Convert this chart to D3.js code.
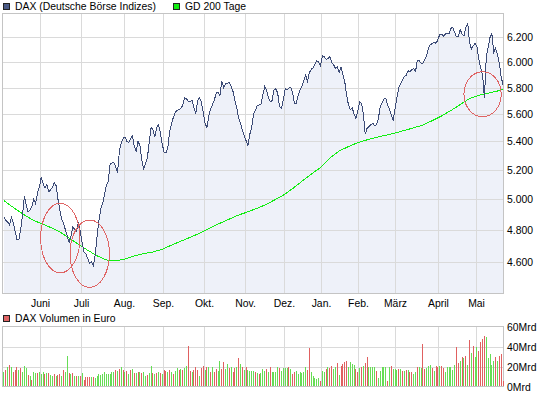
<!DOCTYPE html>
<html lang="de">
<head>
<meta charset="utf-8" />
<script src="https://cdnjs.cloudflare.com/ajax/libs/d3/7.8.5/d3.min.js"></script>
<style>
  body { margin: 0; background: #fff; }
  svg text { font-family: "Liberation Sans", Arial, sans-serif; font-size: 10.4px; fill: #000; }
</style>
</head>
<body>
<div id="chart"></div>
<script>
// DAX close, one value per trading day (4.5.2009 - 21.5.2010)
var daxClose = [
  4885,4860,4850,4830,4880,4845,4790,4738,4738,4800,
  4900,5020,4960,4915,4930,4950,5000,4970,5040,5080,
  5145,5105,5075,5100,5050,5060,5080,5110,5090,5000,
  4930,4870,4840,4800,4760,4720,4760,4820,4800,4790,
  4850,4790,4720,4660,4650,4620,4590,4600,4575,4640,
  4760,4860,4935,4970,5030,5095,5120,5240,5245,5250,
  5220,5180,5330,5390,5420,5432,5400,5390,5420,5440,
  5364,5330,5400,5370,5270,5207,5243,5280,5390,5500,
  5483,5430,5500,5519,5460,5380,5320,5316,5352,5470,
  5531,5575,5612,5628,5630,5641,5665,5722,5715,5692,
  5695,5700,5650,5600,5700,5720,5690,5610,5530,5500,
  5585,5640,5670,5705,5760,5760,5740,5850,5800,5830,
  5833,5840,5810,5769,5700,5645,5570,5530,5483,5440,
  5405,5370,5450,5495,5600,5628,5660,5668,5674,5740,
  5808,5782,5725,5690,5700,5782,5790,5756,5654,5640,
  5705,5790,5782,5795,5800,5756,5680,5680,5744,5780,
  5813,5850,5895,5850,5915,5941,5955,5985,6010,6000,
  5970,6050,6041,6020,6027,6045,5995,5980,5949,5960,
  5920,5960,5900,5846,5740,5667,5630,5645,5600,5565,
  5620,5690,5680,5600,5450,5495,5505,5520,5531,5515,
  5519,5560,5650,5680,5710,5718,5665,5635,5590,5550,
  5641,5720,5800,5825,5860,5885,5895,5930,5925,5940,
  5949,5925,6015,6010,5990,5992,6020,6050,6118,6140,
  6151,6162,6151,6180,6225,6227,6210,6228,6232,6230,
  6275,6285,6240,6205,6210,6266,6225,6210,6280,6320,
  6160,6105,6130,6150,6120,6020,5950,5900,5720,6040,
  6120,6200,6230,6080,6110,6060,5990,5880,5820
];

// GD 200 Tage, read every 5th trading day
var maDays = [0,5,10,15,20,25,30,35,40,45,50,55,60,65,70,75,80,85,90,95,
  100,105,110,115,120,125,130,135,140,145,150,155,160,165,170,175,180,185,190,195,
  200,205,210,215,220,225,230,235,240,245,250,255,260,265,268];
var ma200 = [4990,4945,4903,4866,4840,4815,4787,4748,4709,4671,4637,4611,4606,4617,4636,4650,4660,4677,4703,4728,
  4752,4778,4808,4837,4863,4891,4912,4935,4960,4992,5026,5070,5120,5168,5215,5280,5330,5362,5390,5410,
  5428,5443,5459,5478,5497,5518,5550,5585,5625,5670,5715,5740,5756,5773,5785];

// Volumen in Mrd Euro
var volume = [
  14.3,17,19.3,22,19.3,15,17,20,17,19,
  15,21,19,11.7,11,7,14.3,13.3,13.3,15,
  13,15,12.3,13.3,13.3,11.7,10.3,13,11,11.7,
  13,11,17,14.3,31,13.7,12.3,13.3,11,11,
  11,11,13.3,7,9.3,9.3,9.3,9.3,9.3,9,
  11,12.7,12,12.7,14.3,13,12.7,13,14.3,15,
  17,16,17.3,19.7,17,15,16,12.7,17,17.7,
  13.3,13.3,15,14.3,13.3,15,10.3,11.7,13.3,21,
  13.3,13,14,14.3,14,12.3,17,16,15,16.7,
  15,12.3,16,19,16.7,17.7,16.3,18.3,21,41,
  16,14.3,16.7,19.3,16.7,11,18.3,21,17,20,
  19.3,14.3,19.3,14.3,17.7,16,26,17.7,24.3,17.7,
  22.3,18.3,20,14.3,18.3,20,28.3,22.3,19.3,17,
  19.3,16.7,16,15.3,16,15,13.3,12.7,13.3,17.7,
  16,17.7,14.3,
  20,14.3,15,14.3,19.3,18.7,16,18.3,18.3,18.3,
  19.3,17.7,12.7,14.3,15.7,12.7,14.3,13.7,15,20,
  17,38.3,15,11,8.7,7.7,8.3,6,15.7,15,
  17.7,19.3,18.7,21,17.7,20,23.7,12,21,22.3,
  24.3,26,19.3,24.3,22.7,21.7,17.7,14.3,18,20,
  20.3,24,30,19.3,19.3,19.3,19.3,16,8.3,16,
  19.3,20,20,5,20,21,17.7,17.7,17,17.7,
  17.7,16,16,17,17,14.3,14.3,12.7,15,19.3,
  19.3,18,42.7,17.7,19,21,21.7,19,16,20.3,
  19.3,21,20.3,18.7,14.3,19.3,19.3,20,17,21.7,
  40,23.7,26,29.3,28.3,31,22,46.7,33.7,41,
  30,39.3,36,44.3,47.7,51,49.3,28.3,32.7,21.7,
  26,29.3,26,31,32.7,6
];
// G = Tag im Plus, R = Tag im Minus
var volumeDir = ("GRGRGRRRGR" + "GGGRGRGGRG" + "GGRGRGGRGR" + "RGRGGRGRGR" + "GRGRRRRGRG" +
  "GGGGGGGGGG" + "RGRGRGRGRG" + "RGRGRGGRGG" + "RGRGRGRRGR" + "GRGGRGRGGR" +
  "RGRRRGRRGR" + "GRGRRGGRRG" + "GRGRRGRGRG" + "RGGGGRG" + "RGGGRG" +
  "RGGGGRGGGG" + "RGRRGGGGGG" + "RRGGGGGRGG" + "RGRRGGRGRR" + "RRGGGGRRGR" +
  "GRRGGGGRGG" + "GGGRGRGGGR" + "GRGRGRRGGR" + "GGRRGGGRGR" + "RGRRGGGGGG" +
  "RRGRGRGRGR" + "GGRRRRGGGG" + "GRGRRR").split("");

var months = ["Juni","Juli","Aug.","Sep.","Okt.","Nov.","Dez.","Jan.","Feb.","März","April","Mai"];
var monthStart = [20,42,65,86,108,130,151,171,191,211,234,254];
var priceTicks = [4600,4800,5000,5200,5400,5600,5800,6000,6200];
var volumeTicks = [0,20,40,60];

// red rings drawn into the chart (trading day range, price range)
var ringFrom = [19.7, 35.5, 247];
var ringTo = [40.8, 56.6, 267];
var ringLow = [4533, 4446, 5579];
var ringHigh = [4972, 4863, 5923];

var W = 545, H = 395;
var N = daxClose.length;
var gridColor = "#dadada", borderColor = "#c4c4c4";

var de = d3.formatLocale({decimal: ",", thousands: ".", grouping: [3], currency: ["", " €"]});
var fmt = de.format(",d");

var svg = d3.select("#chart").append("svg")
  .attr("width", W).attr("height", H);
svg.append("rect").attr("width", W).attr("height", H).attr("fill", "#fff");

var x = d3.scaleLinear().domain([-0.5, N - 0.5]).range([3, 504]);
var y = d3.scaleLog().domain([4410, 6400]).range([293.5, 13.5]);
var yv = d3.scaleLinear().domain([0, 60]).range([386.5, 326.5]);

var left = 2.5, right = 503.5;
function gx(m) { return Math.floor(x(m - 0.5)) + 0.5; }

// ---- main panel
var area = d3.area()
  .x(function(d, i) { return x(i); })
  .y0(y.range()[0])
  .y1(function(d) { return y(d); });
svg.append("path").datum(daxClose)
  .attr("d", area).attr("fill", "#eef1f9");

var grid = svg.append("g").attr("stroke", gridColor).attr("stroke-width", 1);
grid.selectAll("line.h").data(priceTicks).enter().append("line")
  .attr("x1", left).attr("x2", right)
  .attr("y1", function(d) { return Math.round(y(d)) + 0.5; })
  .attr("y2", function(d) { return Math.round(y(d)) + 0.5; });
grid.selectAll("line.v").data(monthStart).enter().append("line")
  .attr("x1", gx).attr("x2", gx)
  .attr("y1", 13.5).attr("y2", 293.5);

svg.append("rect")
  .attr("x", left).attr("y", 13.5).attr("width", right - left).attr("height", 280)
  .attr("fill", "none").attr("stroke", borderColor);

var maLine = d3.line()
  .x(function(d, i) { return x(maDays[i]); })
  .y(function(d) { return y(d); });
svg.append("path").datum(ma200)
  .attr("d", maLine).attr("fill", "none")
  .attr("stroke", "#11ee11").attr("stroke-width", 1)
  .attr("shape-rendering", "crispEdges");

var daxLine = d3.line()
  .x(function(d, i) { return x(i); })
  .y(function(d) { return y(d); });
svg.append("path").datum(daxClose)
  .attr("d", daxLine).attr("fill", "none")
  .attr("stroke", "#3d4c77").attr("stroke-width", 1)
  .attr("shape-rendering", "crispEdges");

svg.selectAll("ellipse.ring").data(ringFrom).enter().append("ellipse")
  .attr("cx", function(d, i) { return (x(d) + x(ringTo[i])) / 2; })
  .attr("cy", function(d, i) { return (y(ringLow[i]) + y(ringHigh[i])) / 2; })
  .attr("rx", function(d, i) { return (x(ringTo[i]) - x(d)) / 2; })
  .attr("ry", function(d, i) { return (y(ringLow[i]) - y(ringHigh[i])) / 2; })
  .attr("fill", "none").attr("stroke", "#df6464").attr("stroke-width", 1)
  .attr("shape-rendering", "crispEdges");

svg.selectAll("text.py").data(priceTicks).enter().append("text")
  .attr("x", 507).attr("y", function(d) { return y(d) + 4; })
  .text(function(d) { return fmt(d); });

svg.selectAll("text.mo").data(months).enter().append("text")
  .attr("x", function(d, i) { return gx(monthStart[i]); })
  .attr("y", 306.5).attr("text-anchor", "middle")
  .text(function(d) { return d; });

// legend
function legendItem(lx, ly, color, label) {
  svg.append("rect").attr("x", lx + 0.5).attr("y", ly + 0.5).attr("width", 6).attr("height", 6)
    .attr("fill", color).attr("stroke", "#222");
  svg.append("text").attr("x", lx + 12).attr("y", ly + 7).text(label);
}
legendItem(3, 3, "#4a5a86", "DAX (Deutsche Börse Indizes)");
legendItem(173, 3, "#11ee11", "GD 200 Tage");
legendItem(3, 315, "#df6464", "DAX Volumen in Euro");

// ---- volume panel
var vgrid = svg.append("g").attr("stroke", gridColor).attr("stroke-width", 1);
vgrid.selectAll("line.h").data(volumeTicks.slice(1, 3)).enter().append("line")
  .attr("x1", left).attr("x2", right)
  .attr("y1", function(d) { return Math.round(yv(d)) + 0.5; })
  .attr("y2", function(d) { return Math.round(yv(d)) + 0.5; });
vgrid.selectAll("line.v").data(monthStart).enter().append("line")
  .attr("x1", gx).attr("x2", gx)
  .attr("y1", 326.5).attr("y2", 386.5);
svg.append("rect")
  .attr("x", left).attr("y", 326.5).attr("width", right - left).attr("height", 60)
  .attr("fill", "none").attr("stroke", borderColor);

svg.selectAll("rect.vol").data(volume).enter().append("rect")
  .attr("x", function(d, i) { return Math.floor(x(i)); })
  .attr("width", 1)
  .attr("y", function(d) { return Math.round(yv(d)); })
  .attr("height", function(d) { return 386 - Math.round(yv(d)); })
  .attr("fill", function(d, i) { return volumeDir[i] === "G" ? "#66dd55" : "#e06060"; })
  .attr("shape-rendering", "crispEdges");

svg.selectAll("text.vy").data(volumeTicks).enter().append("text")
  .attr("x", 507).attr("y", function(d) { return yv(d) + 4; })
  .text(function(d) { return d + "Mrd"; });
</script>
</body>
</html>
